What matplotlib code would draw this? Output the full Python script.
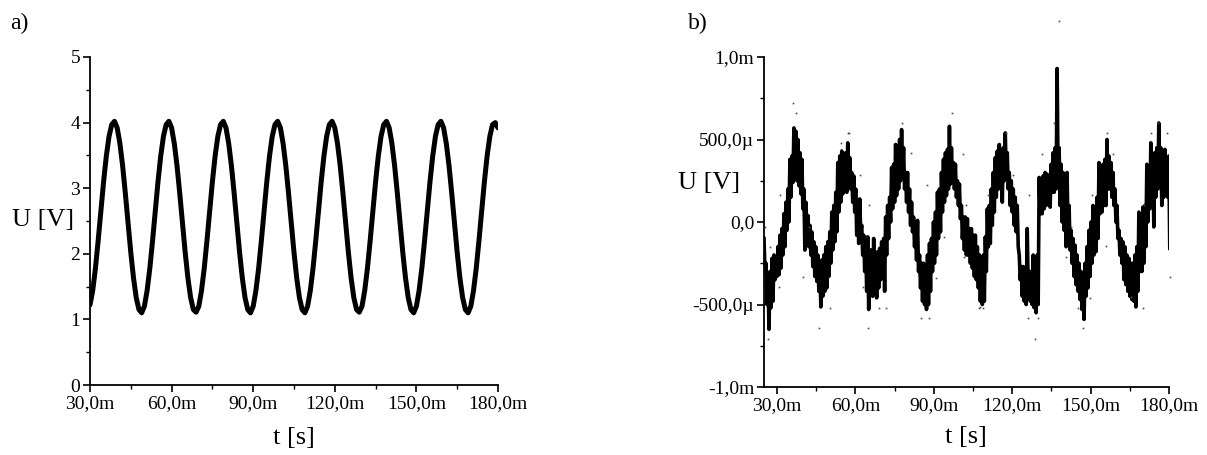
import numpy as np
import matplotlib.pyplot as plt
from matplotlib.ticker import MultipleLocator, FixedLocator, FixedFormatter

plt.rcParams['font.family'] = ['Liberation Serif', 'DejaVu Serif']

# ---- panel a: sine, U [V] read every 1 ms from 30 ms to 180 ms
u_a = [1.22, 1.44, 1.78, 2.20, 2.65, 3.10, 3.49, 3.79, 3.97, 4.02,
       3.92, 3.68, 3.34, 2.92, 2.47, 2.02, 1.63, 1.33, 1.15, 1.10,
       1.20, 1.44, 1.78, 2.20, 2.65, 3.10, 3.49, 3.79, 3.97, 4.02,
       3.92, 3.68, 3.34, 2.92, 2.47, 2.02, 1.63, 1.33, 1.15, 1.11,
       1.20, 1.44, 1.78, 2.20, 2.65, 3.10, 3.49, 3.79, 3.97, 4.02,
       3.92, 3.68, 3.34, 2.92, 2.47, 2.02, 1.63, 1.33, 1.15, 1.10,
       1.20, 1.44, 1.78, 2.20, 2.65, 3.10, 3.49, 3.79, 3.97, 4.02,
       3.92, 3.68, 3.34, 2.92, 2.47, 2.02, 1.63, 1.33, 1.15, 1.10,
       1.20, 1.44, 1.78, 2.20, 2.65, 3.10, 3.49, 3.79, 3.97, 4.02,
       3.92, 3.68, 3.34, 2.92, 2.47, 2.02, 1.63, 1.33, 1.15, 1.11,
       1.20, 1.44, 1.78, 2.20, 2.65, 3.10, 3.49, 3.79, 3.97, 4.02,
       3.92, 3.68, 3.34, 2.92, 2.47, 2.02, 1.63, 1.33, 1.15, 1.10,
       1.20, 1.44, 1.78, 2.20, 2.65, 3.10, 3.49, 3.79, 3.97, 4.02,
       3.92, 3.68, 3.34, 2.92, 2.47, 2.02, 1.63, 1.33, 1.15, 1.10,
       1.20, 1.44, 1.78, 2.20, 2.65, 3.10, 3.49, 3.79, 3.97, 4.00,
       3.92]
t_a = np.linspace(30.0, 180.0, len(u_a))  # ms

# ---- panel b: noisy signal in microvolts, 25 ms .. 180 ms
# upper / lower edge of the trace at each step (the trace jumps between them)
u_top = [-100, -250, -330, -300, -220, -200, -220, -150, -80, -40,
         50, 120, 200, 380, 400, 570, 550, 500, 420, 380,
         200, 120, 40, -20, -60, -120, -150, -200, -250, -230,
         -200, -150, -120, -60, 60, 100, 180, 360, 400, 430,
         400, 420, 480, 390, 300, 280, 200, 100, 140, -20,
         -80, -130, -90, -170, -170, -100, -220, -180, -160, -120,
         -100, 30, 100, 150, 330, 350, 470, 450, 500, 560,
         450, 300, 300, 200, 120, 30, -30, 10, -200, -250,
         -250, -300, -200, -130, -100, 0, 60, 180, 200, 300,
         380, 420, 440, 580, 450, 360, 350, 250, 230, 100,
         30, 30, 20, -40, -40, -80, -80, -150, -200, -250,
         -200, -90, 80, 100, 200, 300, 390, 430, 470, 420,
         450, 540, 420, 300, 250, 200, 150, 100, -200, -270,
         -270, -300, -40, -300, -300, -200, -250, -200, 270, 250,
         280, 300, 290, 260, 350, 420, 450, 930, 450, 350,
         300, 200, 300, 100, -50, -100, -140, -200, -250, -300,
         -350, -250, -150, -50, 0, 100, 50, 150, 360, 300,
         350, 380, 500, 400, 360, 300, 200, 100, -50, -100,
         -120, -150, -200, -220, -250, -250, -200, -150, 60, 0,
         90, 100, 350, 300, 480, 350, 420, 450, 600, 450,
         400, 440, 350, 400]
u_bot = [-300, -500, -650, -520, -480, -350, -330, -320, -280, -200,
         -150, -50, 0, 150, 240, 260, 250, 220, 170, 80,
         -170, -60, -150, -200, -270, -330, -360, -420, -515, -450,
         -420, -400, -330, -250, -170, -120, -60, 60, 120, 170,
         200, 180, 230, 200, 120, 60, -80, -130, -60, -200,
         -300, -420, -530, -420, -450, -420, -460, -400, -350, -330,
         -420, -200, -100, 0, 80, 120, 160, 200, 250, 280,
         200, 120, 60, -20, -60, -150, -230, -300, -400, -480,
         -500, -530, -500, -420, -300, -250, -200, -100, -60, 60,
         120, 160, 200, 230, 250, 200, 150, 100, 20, -100,
         -170, -200, -200, -250, -280, -330, -350, -400, -480, -500,
         -480, -300, -150, -130, -20, 60, 150, 200, 250, 120,
         250, 260, 200, 100, 60, -20, -60, -150, -350, -450,
         -480, -500, -400, -480, -500, -520, -550, -500, 50, 50,
         80, 100, 120, 90, 180, 180, 200, 250, 100, 0,
         -50, -150, -100, -170, -250, -330, -380, -420, -470, -530,
         -590, -450, -400, -330, -250, -200, -180, -100, 50, 60,
         100, 100, 200, 200, 150, 100, 0, -100, -200, -250,
         -350, -380, -420, -450, -470, -480, -515, -420, -300, -300,
         -250, -150, 0, 80, 100, -30, 150, 200, 250, 100,
         150, 200, 150, -160]
u_b = np.column_stack([u_top, u_bot]).ravel()
t_b = np.linspace(25.0, 180.3, len(u_b))  # ms

# stray sample dots around the trace (t in ms, U in microvolts)
dot_t = [36.1, 37.3, 57.2, 57.6, 54.5, 61.8, 30.7, 50.3, 39.9, 25.4,
         62.9, 27.3, 42.2, 31.1, 26.5, 46.1, 64.8, 77.9, 65.2, 81.3,
         87.5, 102.4, 101.6, 69.1, 71.7, 85.2, 88.2, 90.9, 94.0, 101.2,
         97.0, 138.0, 136.1, 131.5, 126.5, 107.4, 108.9, 107.8, 126.1, 130.0,
         128.8, 140.7, 120.4, 110.8, 117.7, 156.4, 158.7, 150.7, 149.9, 145.3,
         147.2, 170.2, 165.6, 173.3, 179.4, 175.9, 180.2, 142.6, 155.7, 170.6]
dot_u = [721, 661, 539, 539, 478, 285, -394, -521, -333, -30,
         -394, -152, -30, 164, -709, -642, -642, 600, 103, 418,
         224, 103, -212, -521, -521, -582, -582, -339, -91, 412,
         661, 1218, 600, 412, 164, -521, -521, -515, -582, -582,
         -709, -212, 285, 164, 539, 539, 412, 164, -460, -521,
         -642, -521, -454, 539, 539, 600, -333, -30, -145, 103]

x_ticks = [30, 60, 90, 120, 150, 180]
x_labels = ['30,0m', '60,0m', '90,0m', '120,0m', '150,0m', '180,0m']
yb_ticks = [-1000, -500, 0, 500, 1000]
yb_labels = ['-1,0m', '-500,0µ', '0,0', '500,0µ', '1,0m']

W, H = 1207, 455
fig = plt.figure(figsize=(W / 100, H / 100), dpi=100)
ax1 = fig.add_axes([90 / W, 1 - 385 / H, (498 - 90) / W, (385 - 57) / H])
ax2 = fig.add_axes([764 / W, 1 - 387 / H, (1169 - 764) / W, (387 - 57) / H])

ax1.plot(t_a, u_a, color='black', lw=3.6, solid_capstyle='round')
ax1.set_xlim(30, 180)
ax1.set_ylim(0, 5)
ax1.yaxis.set_major_locator(MultipleLocator(1))
ax1.yaxis.set_minor_locator(MultipleLocator(0.5))

ax2.plot(t_b, u_b, color='black', lw=2.6, solid_joinstyle='round')
ax2.plot(dot_t, dot_u, ls='none', marker='s', ms=1.2, color='0.3',
         mec='none', clip_on=False)
ax2.set_xlim(25, 180)
ax2.set_ylim(-1000, 1000)
ax2.yaxis.set_major_locator(FixedLocator(yb_ticks))
ax2.yaxis.set_major_formatter(FixedFormatter(yb_labels))
ax2.yaxis.set_minor_locator(MultipleLocator(250))

for ax in (ax1, ax2):
    ax.xaxis.set_major_locator(FixedLocator(x_ticks))
    ax.xaxis.set_major_formatter(FixedFormatter(x_labels))
    ax.xaxis.set_minor_locator(MultipleLocator(15))
    for s in ('top', 'right'):
        ax.spines[s].set_visible(False)
    for s in ('left', 'bottom'):
        ax.spines[s].set_linewidth(1.3)
    ax.tick_params(which='major', direction='out', length=5, width=1.2,
                   labelsize=14, pad=2)
    ax.tick_params(which='minor', direction='out', length=3, width=1.0)

fig.text(10 / W, 1 - 23 / H, 'a)', fontsize=17, va='center', ha='left')
fig.text(688 / W, 1 - 23 / H, 'b)', fontsize=17, va='center', ha='left')
fig.text(12 / W, 1 - 220 / H, 'U [V]', fontsize=19, va='center', ha='left')
fig.text(678 / W, 1 - 183 / H, 'U [V]', fontsize=19, va='center', ha='left')
fig.text(294 / W, 1 - 438 / H, 't [s]', fontsize=19, va='center', ha='center')
fig.text(966 / W, 1 - 437 / H, 't [s]', fontsize=19, va='center', ha='center')

fig.savefig('out.png', dpi=100)
